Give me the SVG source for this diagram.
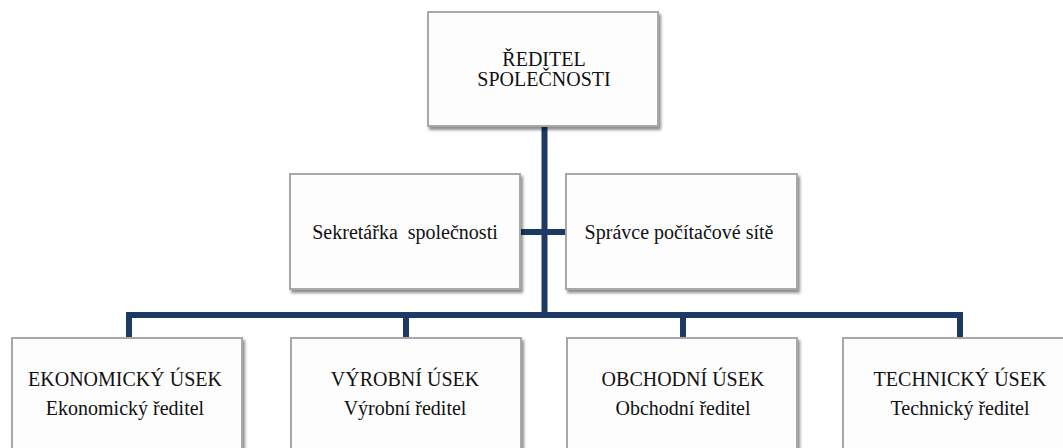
<svg xmlns="http://www.w3.org/2000/svg" width="1063" height="448" viewBox="0 0 1063 448">
  <defs>
    <filter id="sh" x="-5%" y="-5%" width="115%" height="120%">
      <feGaussianBlur in="SourceAlpha" stdDeviation="1.5"/>
      <feOffset dx="2" dy="3" result="b"/>
      <feComponentTransfer><feFuncA type="linear" slope="0.45"/></feComponentTransfer>
      <feMerge><feMergeNode/><feMergeNode in="SourceGraphic"/></feMerge>
    </filter>
  </defs>
  <style>
    .box { fill: #fdfdfd; stroke: #a8a8a8; stroke-width: 2; filter: url(#sh); }
    .t { font-size: 20px; fill: #111; text-anchor: middle; }
    .c { stroke: #1d3a64; stroke-width: 6; fill: none; stroke-linecap: butt; stroke-linejoin: miter; }
  </style>
  <rect width="1063" height="448" fill="#ffffff"/>
  <g id="connectors">
    <path class="c" d="M544.5 126 V315"/>
    <path class="c" d="M520 232 H566"/>
    <path class="c" d="M129 338 V315 H960 V338"/>
    <path class="c" d="M406 315 V338"/>
    <path class="c" d="M683 315 V338"/>
  </g>
  <g font-family="'Liberation Serif', 'DejaVu Serif', serif">
  <g id="reditel">
    <rect class="box" x="428" y="12" width="230" height="114"/>
    <text class="t" x="544" y="66">ŘEDITEL</text>
    <text class="t" x="544" y="86">SPOLEČNOSTI</text>
  </g>
  <g id="sekretarka">
    <rect class="box" x="290" y="174" width="230" height="115"/>
    <text class="t" x="405" y="239" xml:space="preserve">Sekretářka  společnosti</text>
  </g>
  <g id="spravce">
    <rect class="box" x="566" y="174" width="231" height="115"/>
    <text class="t" x="679" y="239">Správce počítačové sítě</text>
  </g>
  <g id="ekonomicky">
    <rect class="box" x="12" y="338" width="230" height="130"/>
    <text class="t" x="125" y="386">EKONOMICKÝ ÚSEK</text>
    <text class="t" x="125" y="415">Ekonomický ředitel</text>
  </g>
  <g id="vyrobni">
    <rect class="box" x="291" y="338" width="230" height="130"/>
    <text class="t" x="405" y="386">VÝROBNÍ ÚSEK</text>
    <text class="t" x="405" y="415">Výrobní ředitel</text>
  </g>
  <g id="obchodni">
    <rect class="box" x="567" y="338" width="230" height="130"/>
    <text class="t" x="683" y="386">OBCHODNÍ ÚSEK</text>
    <text class="t" x="683" y="415">Obchodní ředitel</text>
  </g>
  <g id="technicky">
    <rect class="box" x="843" y="338" width="230" height="130"/>
    <text class="t" x="960" y="386">TECHNICKÝ ÚSEK</text>
    <text class="t" x="960" y="415">Technický ředitel</text>
  </g>
  </g>
</svg>
